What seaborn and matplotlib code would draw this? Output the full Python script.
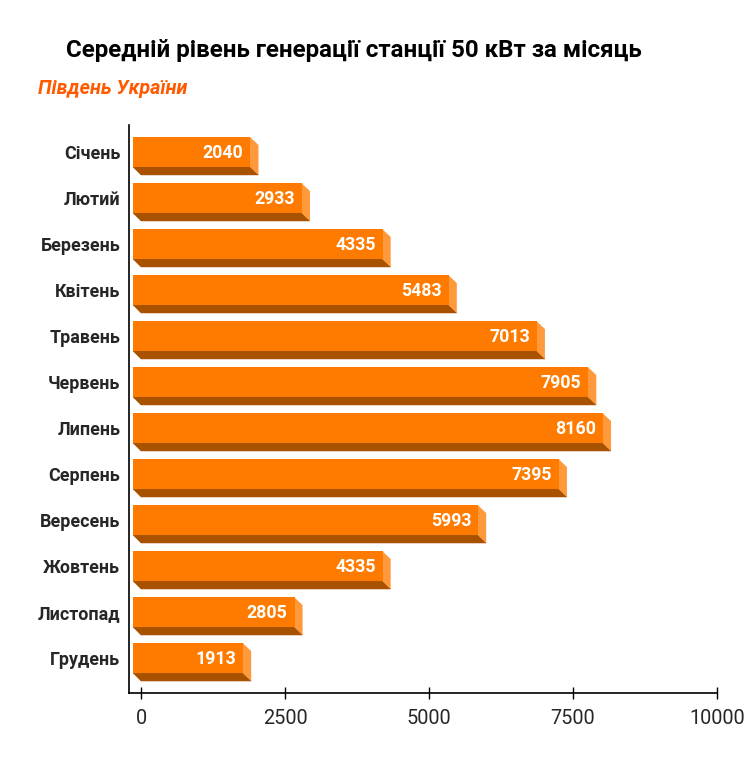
import matplotlib
matplotlib.use("Agg")
import matplotlib.pyplot as plt
import matplotlib.transforms as mtransforms
from matplotlib.patches import Polygon
import seaborn as sns

months = ["Січень", "Лютий", "Березень", "Квітень", "Травень", "Червень",
          "Липень", "Серпень", "Вересень", "Жовтень", "Листопад", "Грудень"]
generation = [2040, 2933, 4335, 5483, 7013, 7905, 8160, 7395, 5993, 4335, 2805, 1913]
x_ticks = [0, 2500, 5000, 7500, 10000]

title = "Середній рівень генерації станції 50 кВт за місяць"
subtitle = "Південь України"

FRONT = "#ff7b00"
BOTTOM = "#a85200"
SIDE = "#ff9a3c"
DEPTH = 8  # px

sns.set_style("white")
plt.rcParams["font.family"] = ["Roboto", "DejaVu Sans"]

fig = plt.figure(figsize=(7.55, 7.71), dpi=100)
ax = fig.add_axes([129 / 755, 1 - 693 / 771, (717 - 129) / 755, (693 - 125) / 771])

sns.barplot(x=generation, y=months, orient="h", color=FRONT, width=0.652,
            saturation=1, ax=ax, zorder=3)

ax.set_xlim(-208, 10000)
ax.set_ylim(11.76, -0.587)

# shift the front face left, then draw bottom and side faces in pixels
shift = mtransforms.ScaledTranslation(-DEPTH / 100, 0, fig.dpi_scale_trans)
for p in ax.patches:
    p.set_transform(ax.transData + shift)
    p.set_edgecolor("none")

for i, v in enumerate(generation):
    h = 0.652 / 2
    (x0, yt), (x1, yb) = ax.transData.transform([(0, i - h), (v, i + h)])
    x0 -= DEPTH
    x1 -= DEPTH
    # display coords: y grows upwards, yb is the lower edge
    bottom = Polygon([(x0, yb), (x1, yb), (x1 + DEPTH, yb - DEPTH), (x0 + DEPTH, yb - DEPTH)],
                     closed=True, facecolor=BOTTOM, edgecolor=BOTTOM, linewidth=0.3,
                     transform=mtransforms.IdentityTransform(), zorder=2, clip_on=False)
    side = Polygon([(x1 - 0.5, yt), (x1 + DEPTH, yt - DEPTH), (x1 + DEPTH, yb - DEPTH), (x1 - 0.5, yb)],
                   closed=True, facecolor=SIDE, edgecolor="none",
                   transform=mtransforms.IdentityTransform(), zorder=2, clip_on=False)
    ax.add_patch(bottom)
    ax.add_patch(side)
    ax.annotate(f"{v}", xy=(v, i), xytext=(-DEPTH - 7, -1), textcoords="offset pixels",
                ha="right", va="center", color="white", fontsize=12.8,
                fontweight="bold", zorder=4)

sns.despine(ax=ax)
for s in ["left", "bottom"]:
    ax.spines[s].set_color("black")
    ax.spines[s].set_linewidth(1.2)

ax.set_xticks(x_ticks)
ax.set_xticklabels([str(t) for t in x_ticks])
ax.tick_params(axis="x", direction="inout", length=9, width=1, color="black",
               labelsize=14.3, pad=7, bottom=True)
ax.tick_params(axis="y", length=0, labelsize=12.9, pad=6.3)
for lab in ax.get_yticklabels():
    lab.set_fontweight("bold")
ax.set_xlabel("")
ax.set_ylabel("")

fig.text(354 / 755, 1 - 51 / 771, title, ha="center", va="center",
         fontsize=17.4, fontweight="bold", color="black")
fig.text(38 / 755, 1 - 88 / 771, subtitle, ha="left", va="center",
         fontsize=14.2, fontweight="bold", fontstyle="italic", color="#ff5a00")

fig.savefig("out.png", dpi=100)
